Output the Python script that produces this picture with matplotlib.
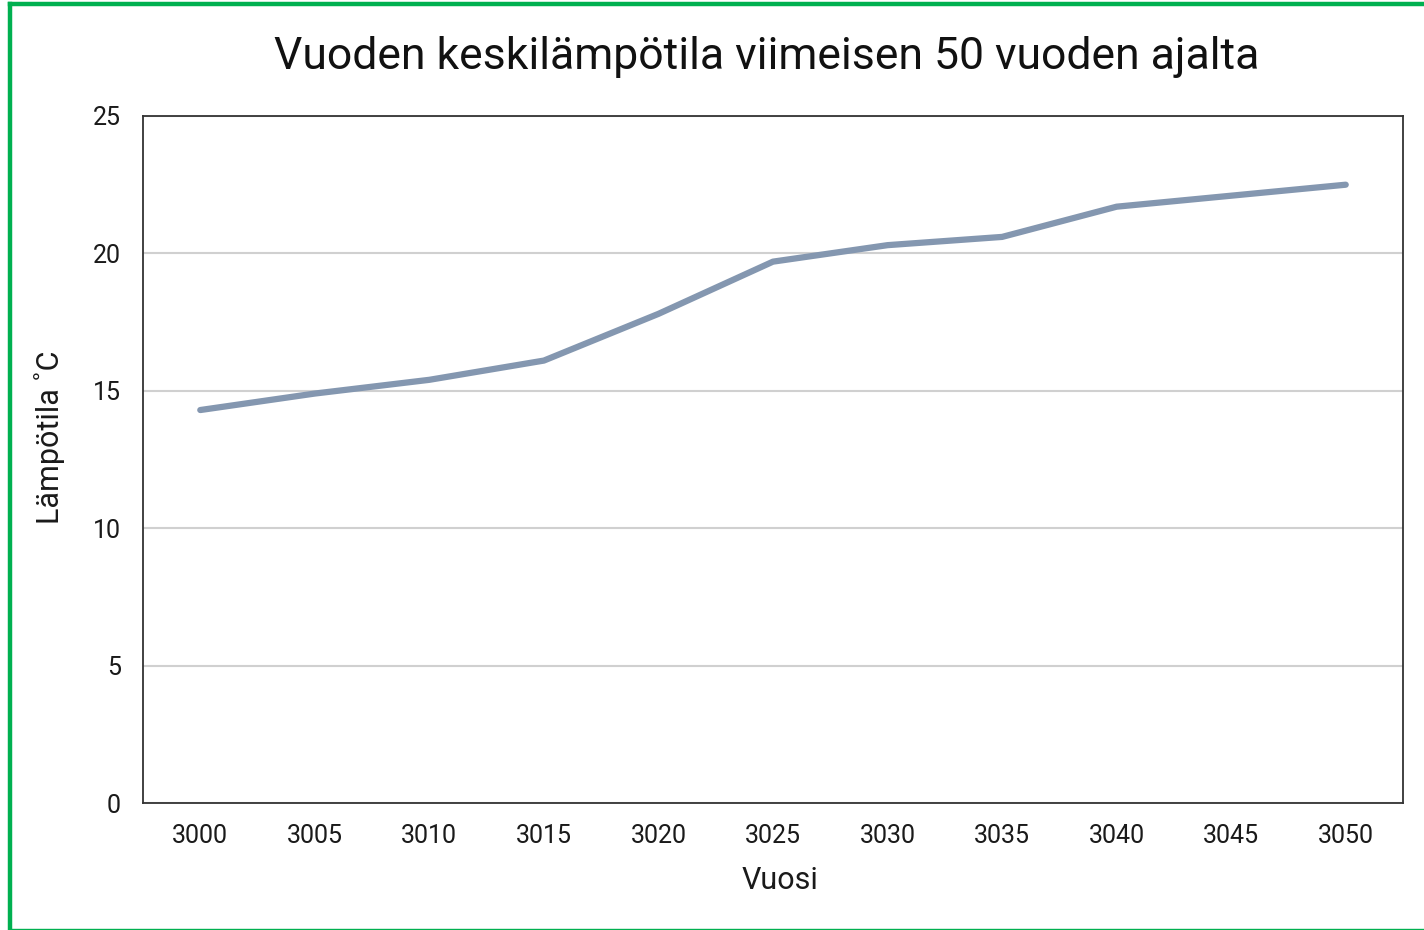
import matplotlib.pyplot as plt
from matplotlib.lines import Line2D

# Data
years = ['3000', '3005', '3010', '3015', '3020', '3025', '3030', '3035', '3040', '3045', '3050']
temps = [14.3, 14.9, 15.4, 16.1, 17.8, 19.7, 20.3, 20.6, 21.7, 22.1, 22.5]
y_ticks = [0, 5, 10, 15, 20, 25]

plt.rcParams['font.family'] = ['Roboto', 'DejaVu Sans']

fig = plt.figure(figsize=(14.24, 9.3), dpi=100)
ax = fig.add_axes([143 / 1424, 1 - 803 / 930, 1260 / 1424, 687 / 930])

# category axis: one slot per year
x = range(len(years))
ax.plot(x, temps, color='#8497b0', linewidth=4.5, solid_capstyle='round', zorder=3)

ax.set_xlim(-0.5, len(years) - 0.5)
ax.set_ylim(0, 25)
ax.set_xticks(list(x))
ax.set_xticklabels(years)
ax.set_yticks(y_ticks)
ax.tick_params(axis='both', length=0, labelsize=18, colors='#1a1a1a')
ax.tick_params(axis='x', pad=15)
ax.tick_params(axis='y', pad=16)

ax.grid(axis='y', color='#d0d0d0', linewidth=1.5, zorder=1)
ax.set_axisbelow(True)
for s in ax.spines.values():
    s.set_color('#333333')
    s.set_linewidth(1.3)

ax.set_xlabel('Vuosi', fontsize=22, color='#1a1a1a')
ax.xaxis.set_label_coords((780 - 143) / 1260, -(880 - 803) / 687)
ax.xaxis.label.set_va('center')
ax.set_ylabel('Lämpötila ˚C', fontsize=22, color='#1a1a1a')
ax.yaxis.set_label_coords(-(143 - 50) / 1260, (803 - 437) / 687)
ax.yaxis.label.set_va('center')

fig.text(767 / 1424, 1 - 57 / 930, 'Vuoden keskilämpötila viimeisen 50 vuoden ajalta',
         ha='center', va='center', fontsize=32, color='#111111')

# green frame: thick left and top, thin bottom
green = '#00b050'
fig.add_artist(Line2D([10 / 1424, 10 / 1424], [0, 1 - 4 / 930], transform=fig.transFigure,
                      color=green, linewidth=3.2, solid_capstyle='projecting'))
fig.add_artist(Line2D([10 / 1424, 1], [1 - 4 / 930, 1 - 4 / 930], transform=fig.transFigure,
                      color=green, linewidth=3.2, solid_capstyle='projecting'))
fig.add_artist(Line2D([10 / 1424, 1], [1.2 / 930, 1.2 / 930], transform=fig.transFigure,
                      color=green, linewidth=1.0))

fig.savefig('out.png', dpi=100)
